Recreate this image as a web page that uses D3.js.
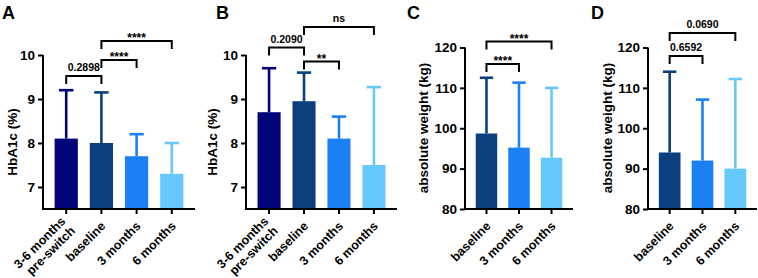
<!DOCTYPE html>
<html>
<head>
<meta charset="utf-8">
<script src="https://cdn.jsdelivr.net/npm/d3@7"></script>
<style>
  body { margin: 0; background: #fff; }
  svg { display: block; font-family: "Liberation Sans", Arial, sans-serif; font-weight: bold; }
</style>
</head>
<body>
<div id="chart"></div>
<script>
// data
const hbCats = ["3-6 months\npre-switch", "baseline", "3 months", "6 months"];
const wtCats = ["baseline", "3 months", "6 months"];

const hbA_mean = [8.1, 8.0, 7.7, 7.3];
const hbA_upper = [9.2, 9.15, 8.2, 8.0];
const hbB_mean = [8.7, 8.95, 8.1, 7.5];
const hbB_upper = [9.7, 9.6, 8.6, 9.27];
const wtC_mean = [98.7, 95.2, 92.7];
const wtC_upper = [112.5, 111.3, 110.0];
const wtD_mean = [94.0, 92.0, 90.0];
const wtD_upper = [114.0, 107.1, 112.2];

const hbTicks = [7, 8, 9, 10];
const wtTicks = [80, 90, 100, 110, 120];

// comparisons: bar indices + label
const cmpA = [[0, 1, "0.2898"], [1, 2, "****"], [1, 3, "****"]];
const cmpB = [[0, 1, "0.2090"], [1, 2, "**"], [1, 3, "ns"]];
const cmpC = [[0, 1, "****"], [0, 2, "****"]];
const cmpD = [[0, 1, "0.6592"], [0, 2, "0.0690"]];

const palette = ["#02047a", "#0b3f7e", "#1a80f4", "#66c8fb"];

// layout
const W = 758, H = 278
    yTop = 55, yBot = 209

var svg = d3.select("#chart").append("svg")
    .attr("width", W)
    .attr("height", H);

var panels = [
  {letter: "A", lx: 2, x0: 43, x1: 195, ylab: "HbA1c (%)", labx: 17, laby: 142,
   cats: hbCats, mean: hbA_mean, upper: hbA_upper, ticks: hbTicks, domain: [6.5, 10], top: yTop,
   cols: palette, cmp: cmpA, levels: [76, 60, 41]},
  {letter: "B", lx: 216, x0: 246, x1: 397, ylab: "HbA1c (%)", labx: 217, laby: 142,
   cats: hbCats, mean: hbB_mean, upper: hbB_upper, ticks: hbTicks, domain: [6.5, 10], top: yTop,
   cols: palette, cmp: cmpB, levels: [47.5, 61.5, 27]},
  {letter: "C", lx: 407, x0: 465, x1: 573, ylab: "absolute weight (kg)", labx: 428, laby: 128,
   cats: wtCats, mean: wtC_mean, upper: wtC_upper, ticks: wtTicks, domain: [80, 120], top: 47.5,
   cols: palette.slice(1), cmp: cmpC, levels: [64, 41.5]},
  {letter: "D", lx: 591, x0: 648, x1: 757, ylab: "absolute weight (kg)", labx: 612, laby: 128,
   cats: wtCats, mean: wtD_mean, upper: wtD_upper, ticks: wtTicks, domain: [80, 120], top: 47.5,
   cols: palette.slice(1), cmp: cmpD, levels: [56, 33]}
];

panels.forEach(drawPanel);

function drawPanel(p) {
  var g = svg.append("g");

  var x = d3.scaleBand()
      .domain(d3.range(p.cats.length))
      .range([p.x0, p.x1])
      .paddingInner(0.34)
      .paddingOuter(0.33);

  var y = d3.scaleLinear()
      .domain(p.domain)
      .range([yBot, p.top]);

  var bw = x.bandwidth(),
      cap = bw * 0.62;

  // error bars (upper only), drawn under the bar
  g.selectAll(".err").data(p.mean).enter().append("line")
      .attr("x1", (d, i) => x(i) + bw / 2)
      .attr("x2", (d, i) => x(i) + bw / 2)
      .attr("y1", d => y(d))
      .attr("y2", (d, i) => y(p.upper[i]))
      .attr("stroke", (d, i) => p.cols[i])
      .attr("stroke-width", 2.6);
  g.selectAll(".cap").data(p.upper).enter().append("line")
      .attr("x1", (d, i) => x(i) + bw / 2 - cap / 2)
      .attr("x2", (d, i) => x(i) + bw / 2 + cap / 2)
      .attr("y1", d => y(d))
      .attr("y2", d => y(d))
      .attr("stroke", (d, i) => p.cols[i])
      .attr("stroke-width", 2.6);

  // bars
  g.selectAll(".bar").data(p.mean).enter().append("rect")
      .attr("x", (d, i) => x(i))
      .attr("y", d => y(d))
      .attr("width", bw)
      .attr("height", d => yBot - y(d))
      .attr("fill", (d, i) => p.cols[i]);

  // y axis
  var ya = g.append("g")
      .attr("transform", "translate(" + p.x0 + ",0)")
      .call(d3.axisLeft(y).tickValues(p.ticks).tickFormat(d3.format("d"))
            .tickSize(5).tickPadding(3).tickSizeOuter(0));
  ya.select(".domain").attr("stroke-width", 2).attr("d", "M0," + (yBot + 1) + "V" + p.top);
  ya.selectAll(".tick line").attr("stroke-width", 2);
  ya.selectAll(".tick text").attr("font-size", 13.5).attr("font-weight", "bold")
      .attr("font-family", "Liberation Sans, Arial, sans-serif").attr("fill", "#000");

  // x axis
  var xa = g.append("g")
      .attr("transform", "translate(0," + yBot + ")")
      .call(d3.axisBottom(x).tickSize(5).tickSizeOuter(0).tickFormat(""));
  xa.select(".domain").attr("stroke-width", 2).attr("d", "M" + (p.x0 - 1) + ",0H" + p.x1);
  xa.selectAll(".tick line").attr("stroke-width", 2);

  // rotated category labels
  p.cats.forEach(function(c, i) {
    var lines = c.split("\n");
    var t = g.append("text")
        .attr("transform", "translate(" + (x(i) + bw / 2 + 2) + "," + (yBot + 15) + ")rotate(-45)")
        .attr("text-anchor", "end")
        .attr("font-size", 12.5)
        .attr("fill", "#000");
    lines.forEach(function(l, k) {
      t.append("tspan")
          .attr("x", 0)
          .attr("y", (k - (lines.length - 1) / 2) * 13.5 + 4)
          .text(l);
    });
  });

  // y label
  g.append("text")
      .attr("transform", "translate(" + p.labx + "," + p.laby + ")rotate(-90)")
      .attr("text-anchor", "middle")
      .attr("font-size", 13.5)
      .attr("fill", "#000")
      .text(p.ylab);

  // panel letter
  svg.append("text")
      .attr("x", p.lx)
      .attr("y", 19)
      .attr("font-size", 18)
      .attr("fill", "#000")
      .text(p.letter);

  // significance brackets
  p.cmp.forEach(function(c, k) {
    var xa1 = x(c[0]) + bw / 2,
        xb1 = x(c[1]) + bw / 2,
        ly = p.levels[k];
    g.append("path")
        .attr("d", "M" + xa1 + "," + (ly + 8) + "V" + ly + "H" + xb1 + "V" + (ly + 8))
        .attr("fill", "none")
        .attr("stroke", "#000")
        .attr("stroke-width", 2);
    var stars = c[2].indexOf("*") >= 0;
    g.append("text")
        .attr("x", (xa1 + xb1) / 2)
        .attr("y", stars ? ly + 1 : ly - 5)
        .attr("text-anchor", "middle")
        .attr("font-size", stars ? 12 : 10.5)
        .attr("fill", "#000")
        .text(c[2]);
  });
}
</script>
</body>
</html>
